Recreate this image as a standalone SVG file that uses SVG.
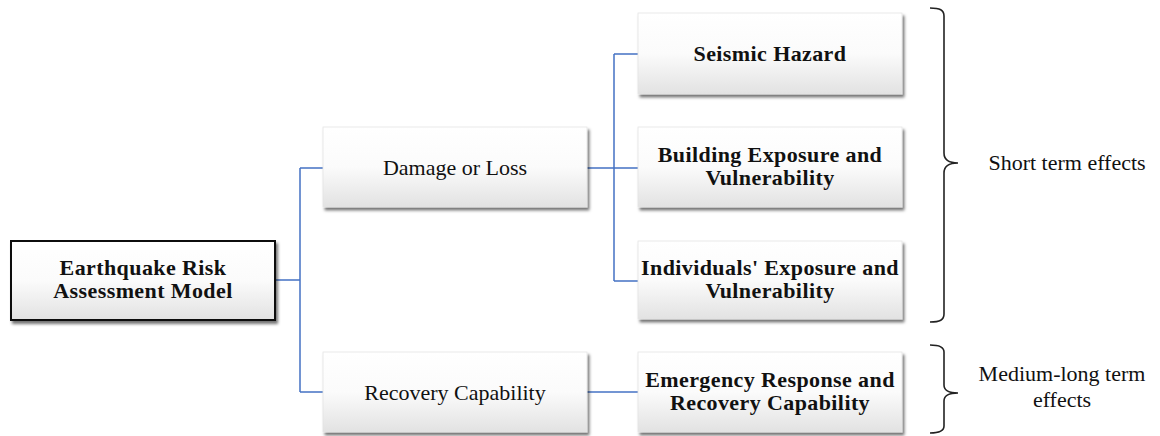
<svg xmlns="http://www.w3.org/2000/svg" width="1160" height="436" viewBox="0 0 1160 436">
<defs>
<linearGradient id="g" x1="0" y1="0" x2="0" y2="1">
<stop offset="0" stop-color="#ffffff"/>
<stop offset="0.5" stop-color="#fbfbfb"/>
<stop offset="1" stop-color="#e2e2e2"/>
</linearGradient>
<filter id="sh" x="-10%" y="-20%" width="125%" height="150%">
<feDropShadow dx="2" dy="3" stdDeviation="1.8" flood-color="#000" flood-opacity="0.55"/>
</filter>
</defs>
<style>
.box{fill:url(#g);stroke:#e4e4e4;stroke-width:0.8;filter:url(#sh)}
.root{fill:url(#g);stroke:#111;stroke-width:2;filter:url(#sh)}
.b{font-family:"Liberation Serif","Times New Roman",serif;font-weight:bold;font-size:22px;fill:#111;text-anchor:middle;letter-spacing:0.4px}
.r{font-family:"Liberation Serif","Times New Roman",serif;font-size:22px;fill:#111;text-anchor:middle}
.c{fill:none;stroke:#4472c4;stroke-width:1.5}
.br{fill:none;stroke:#222;stroke-width:1.6}
</style>
<rect width="1160" height="436" fill="#fff"/>
<g id="connectors">
<path class="c" d="M275 280H300M300 168V392M300 168H323M300 392H323"/>
<path class="c" d="M587 168H638M614 54V281M614 54H638M614 281H638"/>
<path class="c" d="M587 392H638"/>
</g>
<g id="root">
<rect class="root" x="11" y="241" width="264" height="79"/>
<text class="b" x="143" y="275">Earthquake Risk</text>
<text class="b" x="143" y="298">Assessment Model</text>
</g>
<g id="damage">
<rect class="box" x="323" y="127" width="264" height="80"/>
<text class="r" x="455" y="175">Damage or Loss</text>
</g>
<g id="recovery">
<rect class="box" x="323" y="352" width="264" height="80"/>
<text class="r" x="455" y="400">Recovery Capability</text>
</g>
<g id="seismic">
<rect class="box" x="638" y="13" width="264" height="81"/>
<text class="b" x="770" y="61">Seismic Hazard</text>
</g>
<g id="building">
<rect class="box" x="638" y="127" width="264" height="80"/>
<text class="b" x="770" y="162">Building Exposure and</text>
<text class="b" x="770" y="185">Vulnerability</text>
</g>
<g id="individuals">
<rect class="box" x="638" y="241" width="264" height="78"/>
<text class="b" x="770" y="275">Individuals' Exposure and</text>
<text class="b" x="770" y="298">Vulnerability</text>
</g>
<g id="emergency">
<rect class="box" x="638" y="352" width="264" height="80"/>
<text class="b" x="770" y="387">Emergency Response and</text>
<text class="b" x="770" y="410">Recovery Capability</text>
</g>
<g id="short-term">
<path class="br" d="M930 8C940 8 944 10 944 16V153C944 159 948 163 958 163C948 163 944 167 944 173V314C944 320 940 322 930 322"/>
<text class="r" x="1067" y="170">Short term effects</text>
</g>
<g id="medium-term">
<path class="br" d="M930 345C940 345 944 347 944 352V385C944 390 948 393 958 393C948 393 944 396 944 401V426C944 431 940 433 930 433"/>
<text class="r" x="1062" y="381">Medium-long term</text>
<text class="r" x="1062" y="407">effects</text>
</g>
</svg>
